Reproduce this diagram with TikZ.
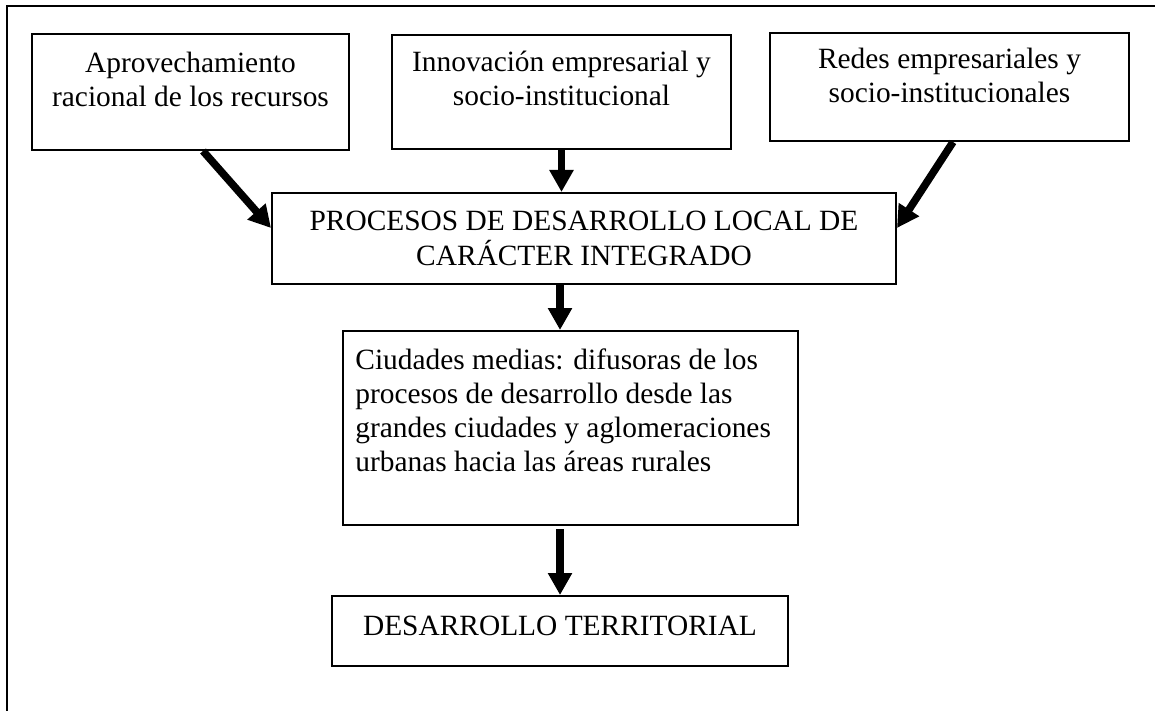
\documentclass[tikz,border=0pt]{standalone}
\usepackage{fontspec}
\setmainfont{Liberation Serif}
\usetikzlibrary{arrows.meta}
\begin{document}
\begin{tikzpicture}[x=0.5pt,y=-0.5pt,
  box/.style={draw, line width=1pt, inner sep=0pt},
  txt/.style={font=\fontsize{14.7}{17.4}\selectfont, align=center, inner sep=0pt, anchor=base},
  txtl/.style={font=\fontsize{14.7}{16.9}\selectfont, align=left, inner sep=0pt, anchor=base west},
  arr/.style={line width=3.8pt, -{Triangle[width=11.5pt,length=11pt]}},
  frame/.style={line width=1.2pt}]
\useasboundingbox (0,0) rectangle (1155,711);
\draw[frame] (7,711) -- (7,6) -- (1155,6);
% boxes
\node[box, minimum width=158.5pt, minimum height=58pt] (b1) at (190.5,92) {};
\node[box, minimum width=169.5pt, minimum height=57pt] (b2) at (561.5,92) {};
\node[box, minimum width=179.5pt, minimum height=54pt] (b3) at (949.5,87) {};
\node[box, minimum width=312pt, minimum height=45.5pt] (p) at (584,238.5) {};
\node[box, minimum width=227.5pt, minimum height=97pt] (c) at (570.5,428) {};
\node[box, minimum width=228pt, minimum height=35pt] (d) at (560,631) {};
% texts (base anchor = baseline of last line)
\node[txt] (t1) at (190.5,107) {Aprovechamiento\\racional de los recursos};
\node[txt] (t2) at (561.5,106) {Innovación empresarial y\\socio-institucional};
\node[txt] (t3) at (949.5,103) {Redes empresariales y\\socio-institucionales};
\node[txt] (tp) at (584,265) {PROCESOS DE DESARROLLO LOCAL DE\\CARÁCTER INTEGRADO};
\node[txtl] (tc) at (355,471) {Ciudades medias: difusoras de los\\procesos de desarrollo desde las\\grandes ciudades y aglomeraciones\\urbanas hacia las áreas rurales};
\node[txt] (td) at (560,635) {DESARROLLO TERRITORIAL};
% arrows
\draw[arr] ([xshift=6.25pt]b1.south) -- ([yshift=5.25pt]p.west);
\draw[arr] (b2.south) -- (b2.south |- p.north);
\draw[arr] ([xshift=1.75pt]b3.south) -- ([yshift=5.25pt]p.east);
\draw[arr] (d.north |- p.south) -- (d.north |- c.north);
\draw[arr] ([yshift=-1.5pt]d.north |- c.south) -- (d.north);
\end{tikzpicture}
\end{document}
